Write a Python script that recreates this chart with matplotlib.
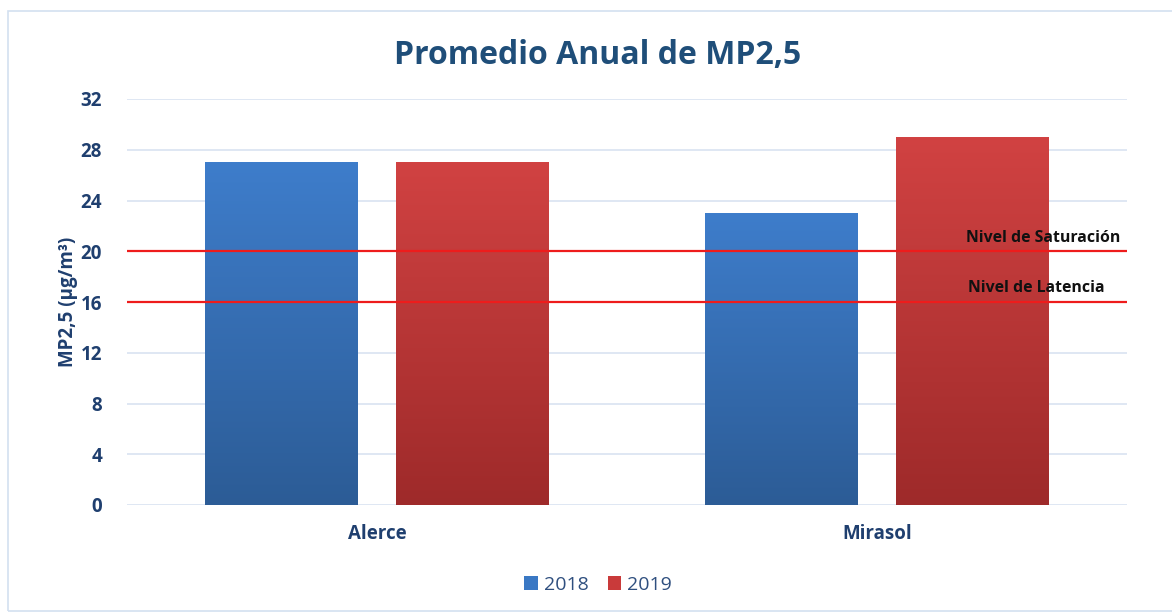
import matplotlib
matplotlib.use("Agg")
import matplotlib.pyplot as plt
import numpy as np
from matplotlib.colors import LinearSegmentedColormap
from matplotlib.patches import Rectangle

# data
estaciones = ['Alerce', 'Mirasol']
anios = ['2018', '2019']
valores_2018 = [27, 23]
valores_2019 = [27, 29]
nivel_saturacion = 20
nivel_latencia = 16
yticks = [0, 4, 8, 12, 16, 20, 24, 28, 32]

plt.rcParams['font.family'] = ['Open Sans', 'DejaVu Sans']
azul_txt = '#1F3F6F'

fig = plt.figure(figsize=(11.72, 6.14), dpi=100)
ax = fig.add_axes([127/1172, 1 - 505/614, 1000/1172, 406/614])

# borde del grafico
fig.patches.append(Rectangle((8/1172, 3/614), 1175/1172, 600/614, transform=fig.transFigure,
                             fill=False, edgecolor='#D3E0F0', linewidth=1.2, zorder=0))

x = np.arange(len(estaciones))
w = 0.306
off = 0.191
b1 = ax.bar(x - off, valores_2018, w, color='#3A78C4', label=anios[0], zorder=2)
b2 = ax.bar(x + off, valores_2019, w, color='#C93A3A', label=anios[1], zorder=2)

# degradado vertical en las barras
grad_azul = LinearSegmentedColormap.from_list('az', ['#2C5C96', '#3E7DCB'])
grad_rojo = LinearSegmentedColormap.from_list('ro', ['#9E2A2A', '#D14242'])
g = np.linspace(0, 1, 256).reshape(-1, 1)
for bars, cm in [(b1, grad_azul), (b2, grad_rojo)]:
    for bar in bars:
        x0, y0 = bar.get_x(), bar.get_y()
        im = ax.imshow(g, cmap=cm, origin='lower', aspect='auto',
                       extent=[x0, x0 + bar.get_width(), y0, y0 + bar.get_height()], zorder=2.5)
        im.set_clip_path(bar)

ax.set_xlim(-0.5, 1.5)
ax.set_ylim(0, 32)
ax.set_yticks(yticks)
ax.set_xticks(x)
ax.set_xticklabels(estaciones)

# lineas de referencia
ax.axhline(nivel_saturacion, color='#EE1C1C', lw=1.6, zorder=3)
ax.axhline(nivel_latencia, color='#EE1C1C', lw=1.6, zorder=3)
ax.text(1.178, nivel_saturacion + 0.45, 'Nivel de Saturación', fontsize=11.4, fontweight='bold',
        color='#111111', ha='left', va='bottom', zorder=4)
ax.text(1.182, nivel_latencia + 0.45, 'Nivel de Latencia', fontsize=11.4, fontweight='bold',
        color='#111111', ha='left', va='bottom', zorder=4)

ax.grid(axis='y', color='#D9E3F1', lw=1.2, zorder=0)
ax.set_axisbelow(True)
for s in ax.spines.values():
    s.set_visible(False)
ax.tick_params(length=0)
ax.tick_params(axis='y', pad=18, labelsize=13.5, labelcolor=azul_txt)
ax.tick_params(axis='x', pad=14, labelsize=13.5, labelcolor=azul_txt)
for t in ax.get_xticklabels() + ax.get_yticklabels():
    t.set_fontweight('bold')

ax.set_ylabel('MP2,5 (µg/m³)', fontsize=13.5, fontweight='bold', color=azul_txt, labelpad=2)
fig.suptitle('Promedio Anual de MP2,5', x=598/1172, y=1 - 55/614, va='center',
             fontsize=23, fontweight='bold', color='#1F4E79')

fig.legend(handles=[b1, b2], labels=anios, loc='center', bbox_to_anchor=(598/1172, 1 - 585/614),
           ncol=2, frameon=False, fontsize=14, handlelength=0.7, handleheight=0.7,
           handletextpad=0.3, columnspacing=1.0, labelcolor='#2F4F7F')

fig.savefig('out.png', dpi=100)
